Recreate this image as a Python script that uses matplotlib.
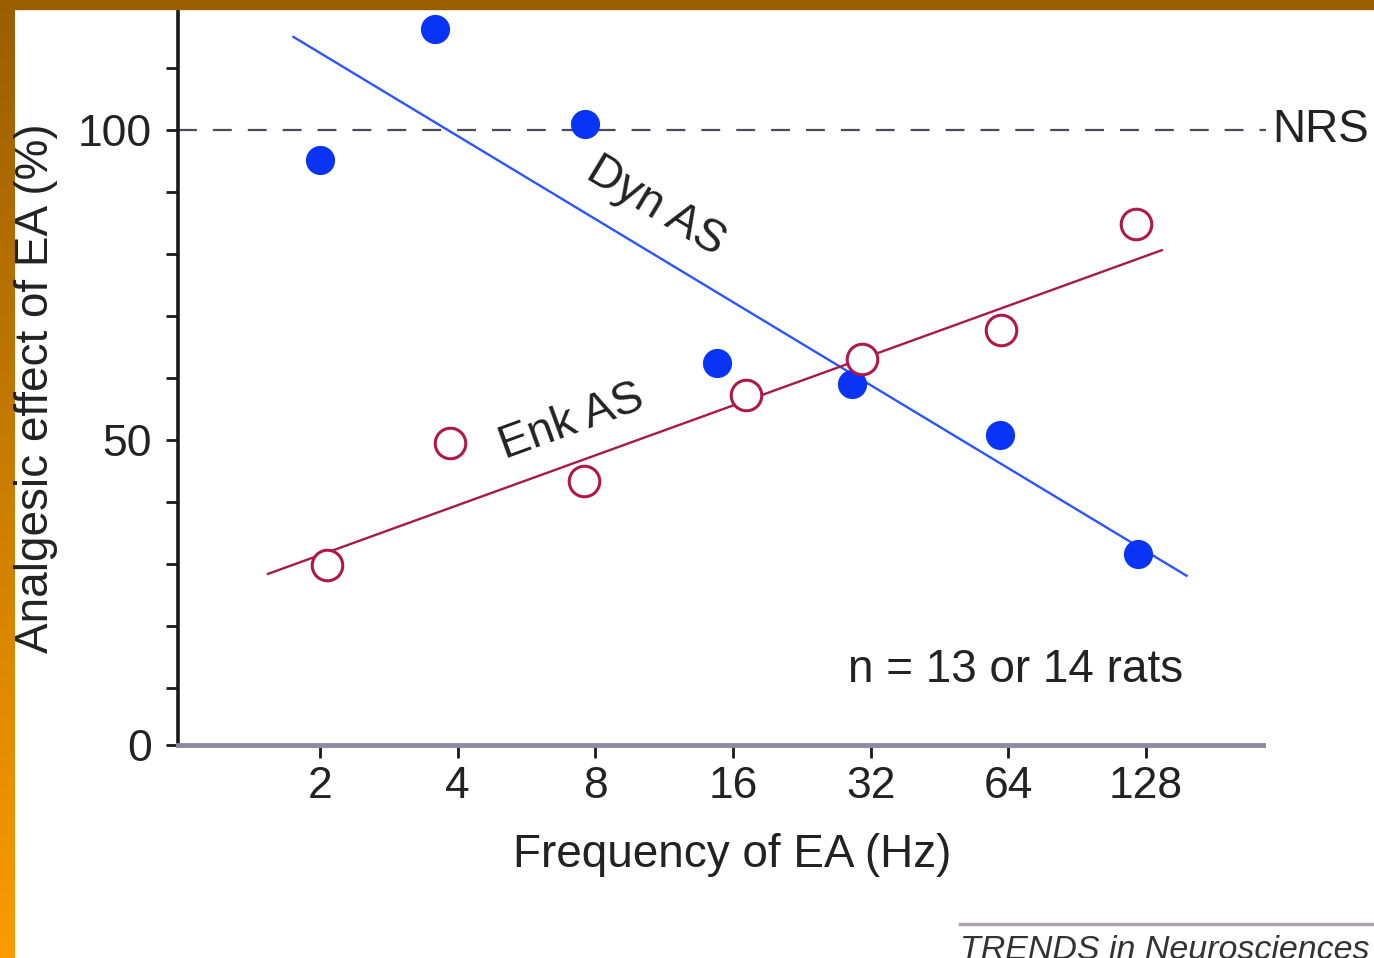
import numpy as np
import matplotlib.pyplot as plt
from matplotlib.ticker import FixedLocator, MultipleLocator, NullLocator
from matplotlib.lines import Line2D
from matplotlib.patches import Rectangle
from matplotlib.colors import LinearSegmentedColormap

plt.rcParams['font.family'] = ['Liberation Sans', 'DejaVu Sans']

# Dyn AS (filled circles) and Enk AS (open circles), frequency in Hz vs effect in %
dyn_freq = [2.0, 3.57, 7.6, 14.8, 29.2, 61.4, 123.0]
dyn_effect = [95.2, 116.3, 101.0, 62.4, 59.0, 50.8, 31.6]
enk_freq = [2.07, 3.85, 7.55, 17.1, 30.7, 61.8, 122.0]
enk_effect = [29.8, 49.5, 43.4, 57.3, 63.1, 67.7, 84.8]

# regression lines as drawn in the figure (end points)
dyn_fit_freq = [1.75, 157.0]
dyn_fit_effect = [115.0, 28.1]
enk_fit_freq = [1.54, 138.6]
enk_fit_effect = [28.4, 80.6]

nrs_level = 100
xtick_vals = [2, 4, 8, 16, 32, 64, 128]
xtick_labels = ['2', '4', '8', '16', '32', '64', '128']
ytick_vals = [0.8, 50, 100]
ytick_labels = ['0', '50', '100']

fig = plt.figure(figsize=(13.74, 9.58), dpi=100)
fig.patch.set_facecolor('white')

# orange frame on the left and top
bax = fig.add_axes([0, 0, 15 / 1374, 1])
grad = np.linspace(0, 1, 256).reshape(-1, 1)
cmap = LinearSegmentedColormap.from_list('frame', ['#9a5e00', '#fa9c00'])
bax.imshow(grad, aspect='auto', cmap=cmap, extent=[0, 1, 0, 1], origin='upper')
bax.axis('off')
fig.patches.append(Rectangle((0, 1 - 9 / 958), 1, 9 / 958, transform=fig.transFigure,
                             color='#9a5e00', zorder=10))

ax = fig.add_axes([178 / 1374, 1 - 745 / 958, (1263 - 178) / 1374, (745 - 9) / 958])
ax.set_xscale('log', base=2)
ax.set_xlim(2 ** -0.031, 2 ** 7.85)
ax.set_ylim(0.8, 119.5)

ax.plot([2 ** -0.031, 2 ** 7.87], [nrs_level, nrs_level], color='#4a4a58', lw=1.6,
        linestyle=(0, (8.5, 7.2)), zorder=1, clip_on=False)
ax.text(2 ** 7.85 * 1.05, nrs_level, 'NRS', fontsize=33, color='#222222',
        va='center', ha='left', clip_on=False)

ax.plot(dyn_fit_freq, dyn_fit_effect, color='#2a55ff', lw=1.7, zorder=2)
ax.plot(enk_fit_freq, enk_fit_effect, color='#a8184a', lw=1.7, zorder=2)
ax.plot(dyn_freq, dyn_effect, 'o', ms=20, color='#0a34f5', mec='#0a34f5', zorder=3,
        clip_on=False)
ax.plot(enk_freq, enk_effect, 'o', ms=22, mfc='white', mec='#b01848', mew=2.2, zorder=3)

ax.text(10.85, 87.7, 'Dyn AS', fontsize=33, color='#222222', rotation=-31,
        rotation_mode='anchor', ha='center', va='center')
ax.text(7.11, 52.9, 'Enk AS', fontsize=33, color='#222222', rotation=20,
        rotation_mode='anchor', ha='center', va='center')
ax.text(28.5, 12.9, 'n = 13 or 14 rats', fontsize=33, color='#222222',
        ha='left', va='center')

ax.xaxis.set_major_locator(FixedLocator(xtick_vals))
ax.set_xticklabels(xtick_labels)
ax.xaxis.set_minor_locator(NullLocator())
ax.set_yticks(ytick_vals)
ax.set_yticklabels(ytick_labels)
ax.yaxis.set_minor_locator(MultipleLocator(10))

ax.tick_params(axis='both', which='major', labelsize=32, labelcolor='#222222',
               length=9, width=2, color='#1a1a1a')
ax.tick_params(axis='y', which='minor', length=9, width=2, color='#1a1a1a')
ax.tick_params(axis='x', pad=6)
ax.tick_params(axis='y', pad=10)

for s in ['top', 'right']:
    ax.spines[s].set_visible(False)
ax.spines['left'].set_color('#1a1a1a')
ax.spines['left'].set_linewidth(2.6)
ax.spines['bottom'].set_color('#8a8aa0')
ax.spines['bottom'].set_linewidth(3.5)

fig.text(732 / 1374, 1 - 855 / 958, 'Frequency of EA (Hz)', fontsize=33,
         color='#222222', ha='center', va='center')
fig.text(36 / 1374, 1 - 388 / 958, 'Analgesic effect of EA (%)', fontsize=33,
         color='#222222', ha='center', va='center', rotation=90)

fig.lines.append(Line2D([960 / 1374, 1], [1 - 924 / 958, 1 - 924 / 958],
                        transform=fig.transFigure, color='#aaa2ac', lw=2.5))
fig.text(960 / 1374, -1 / 958, 'TRENDS in Neurosciences', fontsize=24.5,
         style='italic', color='#333333', ha='left', va='baseline')

fig.savefig('out.png', dpi=100)
